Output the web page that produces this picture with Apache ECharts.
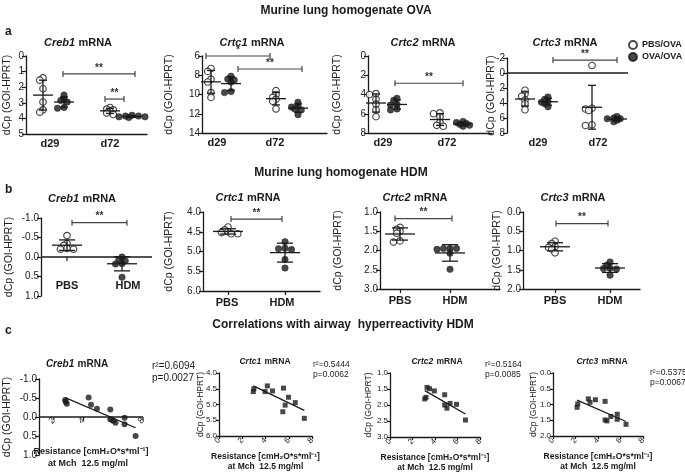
<!DOCTYPE html>
<html><head><meta charset="utf-8">
<script src="https://cdn.jsdelivr.net/npm/echarts@6/dist/echarts.min.js"></script>
<style>html,body{margin:0;padding:0;background:#fff}#c{width:685px;height:475px}</style>
</head><body><div id="c"></div>
<script>
// ================= DATA =================
const timeLabels = ['d29', 'd72'];
const hdmLabels = ['PBS', 'HDM'];
const ovaNames = ['PBS/OVA', 'OVA/OVA'];
const sigA1 = ['**', '**'];
const sigA2 = ['*', '**'];
const sigA3 = ['**'];
const sigA4 = ['**'];
const sigB = ['**'];

// y tick labels
const yTicksA1 = [0, 1, 2, 3, 4, 5];
const yTicksA2 = [6, 8, 10, 12, 14];
const yTicksA3 = [0, 2, 4, 6, 8];
const yTicksA4 = [-2, 0, 2, 4, 6, 8];
const yTicksB1 = [-1.0, -0.5, 0.0, 0.5, 1.0];
const yTicksB2 = [4.0, 4.5, 5.0, 5.5, 6.0];
const yTicksB3 = [1.0, 1.5, 2.0, 2.5, 3.0];
const yTicksB4 = [0.0, 0.5, 1.0, 1.5, 2.0];
const yTicksC1 = [-1.0, -0.5, 0.0, 0.5, 1.0];
const yTicksC2 = [4.0, 4.5, 5.0, 5.5, 6.0];
const yTicksC3 = [1.0, 1.5, 2.0, 2.5, 3.0];
const yTicksC4 = [0.0, 0.5, 1.0, 1.5, 2.0];
const xTicksC1 = [2, 4, 6, 8];
const xTicksC = [0, 2, 4, 6, 8];

// Row a: murine lung homogenate OVA (dCp)
const aCreb1_pbs_d29 = [1.4, 1.55, 2.1, 2.95, 3.45, 3.6];
const aCreb1_ova_d29 = [2.5, 2.75, 2.85, 2.95, 3.3, 3.35];
const aCreb1_pbs_d72 = [3.3, 3.4, 3.45, 3.55, 3.65, 3.75];
const aCreb1_ova_d72 = [3.8, 3.85, 3.85, 3.9, 3.9, 3.95];

const aCrtc1_pbs_d29 = [7.3, 7.6, 8.4, 8.7, 9.8, 10.3];
const aCrtc1_ova_d29 = [8.1, 8.4, 8.5, 8.7, 9.7, 9.8];
const aCrtc1_pbs_d72 = [9.6, 10.0, 10.3, 10.5, 10.7, 11.5];
const aCrtc1_ova_d72 = [10.8, 11.2, 11.3, 11.5, 11.6, 12.1];

const aCrtc2_pbs_d29 = [3.9, 4.0, 4.5, 5.0, 5.6, 6.3];
const aCrtc2_ova_d29 = [4.4, 4.6, 5.0, 5.1, 5.5, 5.6];
const aCrtc2_pbs_d72 = [5.9, 6.0, 6.3, 6.9, 7.2, 7.3];
const aCrtc2_ova_d72 = [6.8, 6.9, 7.0, 7.1, 7.2, 7.3];

const aCrtc3_pbs_d29 = [2.3, 2.8, 3.1, 3.6, 4.1, 4.9];
const aCrtc3_ova_d29 = [3.2, 3.5, 3.8, 3.9, 4.1, 4.5];
const aCrtc3_pbs_d72 = [-1.0, 4.7, 4.8, 5.0, 6.9, 7.0];
const aCrtc3_ova_d72 = [5.8, 6.0, 6.1, 6.1, 6.3, 6.5];

// significance bracket heights (data units)
const brA1 = [1.15, 2.76];
const brA2 = [6.0, 7.35];
const brA3 = [2.83];
const brA4 = [-1.73];

// Row b: murine lung homogenate HDM (dCp)
const bCreb1_pbs = [-0.55, -0.35, -0.3, -0.22, -0.2, -0.2];
const bCreb1_hdm = [0.0, 0.07, 0.1, 0.17, 0.18, 0.52];
const bCrtc1_pbs = [4.38, 4.45, 4.5, 4.52, 4.55, 4.55];
const bCrtc1_hdm = [4.75, 4.92, 4.93, 4.95, 5.2, 5.42];
const bCrtc2_pbs = [1.4, 1.45, 1.5, 1.55, 1.75, 1.78];
const bCrtc2_hdm = [1.95, 1.95, 1.95, 1.97, 2.07, 2.49];
const bCrtc3_pbs = [0.76, 0.82, 0.9, 0.92, 0.96, 1.06];
const bCrtc3_hdm = [1.3, 1.38, 1.46, 1.47, 1.48, 1.64];
const brB = [-0.88, 4.18, 1.17, 0.3];

// Row c: correlations with airway hyperreactivity (resistance vs dCp)
const cCreb1_res = [2.76, 2.8, 2.87, 4.34, 4.5, 4.9, 5.8, 5.8, 5.99, 6.15, 6.76, 6.76, 7.5];
const cCreb1_dcp = [-0.45, -0.40, -0.35, -0.51, -0.32, -0.22, -0.2, 0.06, 0.1, 0.15, 0.02, 0.19, 0.5];
const cCrtc1_res = [2.95, 3.0, 3.96, 4.16, 4.6, 5.55, 5.69, 5.49, 5.98, 6.56, 7.34];
const cCrtc1_dcp = [4.59, 4.5, 4.59, 4.41, 4.57, 4.48, 5.02, 5.23, 4.77, 4.94, 5.44];
const cCrtc2_res = [3.09, 3.2, 3.29, 3.51, 3.94, 4.86, 4.86, 5.06, 5.34, 5.91, 6.71];
const cCrtc2_dcp = [1.81, 1.76, 1.45, 1.49, 1.56, 1.68, 2.0, 2.1, 1.95, 1.98, 2.47];
const cCrtc3_res = [2.14, 2.2, 3.14, 3.29, 3.77, 4.63, 4.63, 4.8, 5.14, 5.71, 5.71, 6.49];
const cCrtc3_dcp = [1.09, 0.98, 0.82, 0.93, 0.85, 0.9, 1.49, 1.52, 1.38, 1.31, 1.47, 1.63];
const cStats = [['0.6094', '0.0027'], ['0.5444', '0.0062'], ['0.5164', '0.0085'], ['0.5375', '0.0067']];

// ================= BUILD =================
const FONT = '"Liberation Sans", Arial, Helvetica, sans-serif';
const INK = '#1a1a1a';
const option = {
  animation: false, backgroundColor: '#fff',
  textStyle: { fontFamily: FONT },
  grid: [], xAxis: [], yAxis: [], series: [], graphic: [],
  legend: {
    data: ovaNames, orient: 'vertical', left: 628, top: 40, itemWidth: 8, itemHeight: 8,
    itemGap: 2, icon: 'circle', selectedMode: false, padding: 0,
    textStyle: { fontSize: 9, fontWeight: 'bold', color: INK, fontFamily: FONT }
  }
};

function mean(a) { return a.reduce((s, v) => s + v, 0) / a.length; }
function sd(a) { const m = mean(a); return Math.sqrt(a.reduce((s, v) => s + (v - m) * (v - m), 0) / (a.length - 1)); }
function fmt1(v) { return v.toFixed(1); }

function swarm(vals, center, pxPerUnit, size) {
  const order = vals.map((v, i) => i).sort((a, b) => vals[a] - vals[b]);
  const placed = []; const out = [];
  const step = size * 0.5, dist = size * 0.55;
  for (const i of order) {
    const y = vals[i] * pxPerUnit;
    let off = 0;
    for (let k = 0; k < 30; k++) {
      const cand = k === 0 ? 0 : (k % 2 ? -1 : 1) * Math.ceil(k / 2) * step;
      const ok = placed.every(p => Math.hypot(p.x - cand, p.y - y) >= dist);
      if (ok) { off = cand; break; }
    }
    placed.push({ x: off, y: y });
    out[i] = [center + off, vals[i]];
  }
  return out;
}

function errRender(hw, cw) {
  return function (params, api) {
    const x = api.value(0), m = api.value(1), s = api.value(2);
    const c = api.coord([x, m]), a = api.coord([x, m - s]), b = api.coord([x, m + s]);
    const st = { stroke: INK, lineWidth: 1.3 };
    return { type: 'group', children: [
      { type: 'line', shape: { x1: c[0] - hw, y1: c[1], x2: c[0] + hw, y2: c[1] }, style: st },
      { type: 'line', shape: { x1: c[0], y1: a[1], x2: c[0], y2: b[1] }, style: st },
      { type: 'line', shape: { x1: c[0] - cw, y1: a[1], x2: c[0] + cw, y2: a[1] }, style: st },
      { type: 'line', shape: { x1: c[0] - cw, y1: b[1], x2: c[0] + cw, y2: b[1] }, style: st }
    ] };
  };
}

function bracketRender(texts) {
  return function (params, api) {
    const y = api.value(2);
    const p1 = api.coord([api.value(0), y]), p2 = api.coord([api.value(1), y]);
    const st = { stroke: '#444', lineWidth: 1.2 };
    return { type: 'group', children: [
      { type: 'line', shape: { x1: p1[0], y1: p1[1], x2: p2[0], y2: p2[1] }, style: st },
      { type: 'line', shape: { x1: p1[0], y1: p1[1] - 3, x2: p1[0], y2: p1[1] + 3 }, style: st },
      { type: 'line', shape: { x1: p2[0], y1: p2[1] - 3, x2: p2[0], y2: p2[1] + 3 }, style: st },
      { type: 'text', style: { text: texts[params.dataIndex], x: (p1[0] + p2[0]) / 2, y: p1[1] - 1,
        align: 'center', verticalAlign: 'bottom', fontSize: 10, fontWeight: 'bold', fontFamily: FONT, fill: '#333' } }
    ] };
  };
}

function zeroRender(ticks, tickLen) {
  return function (params, api) {
    const cs = params.coordSys;
    const y = api.coord([api.value(0), 0])[1];
    const kids = [{ type: 'line', shape: { x1: cs.x, y1: y, x2: cs.x + cs.width, y2: y }, style: { stroke: INK, lineWidth: 1.3 } }];
    (ticks || []).forEach(t => {
      const x = api.coord([t, 0])[0];
      kids.push({ type: 'line', shape: { x1: x, y1: y, x2: x, y2: y + (tickLen || 4) }, style: { stroke: INK, lineWidth: 1.2 } });
    });
    return { type: 'group', children: kids };
  };
}

function yAxisCfg(gi, ticks, name, gap, small) {
  return {
    gridIndex: gi, type: 'value', inverse: true,
    min: ticks[0], max: ticks[ticks.length - 1], interval: ticks[1] - ticks[0],
    axisLine: { show: true, lineStyle: { color: INK, width: 1.3 } },
    axisTick: { show: true, length: small ? 3 : 4, lineStyle: { color: INK, width: 1.2 } },
    axisLabel: { fontSize: small ? 8 : 10, color: '#222', margin: 2, showMinLabel: true, showMaxLabel: true,
      hideOverlap: false,
      formatter: (Number.isInteger(ticks[1] - ticks[0]) ? (v => String(v)) : fmt1) },
    splitLine: { show: false },
    name: name, nameLocation: 'middle', nameGap: gap, nameRotate: 90, nameMoveOverlap: false,
    nameTextStyle: { fontSize: small ? 8.5 : 10.5, color: '#222', fontFamily: FONT }
  };
}

function addGrid(l, t, w, h) {
  option.grid.push({ left: l, top: t, width: w, height: h, containLabel: false, outerBoundsMode: 'none' });
  return option.grid.length - 1;
}

// dot-plot panel
function dotPanel(p) {
  const gi = addGrid(p.left, p.top, p.width, p.height);
  const lblMap = {};
  p.labelPos.forEach((v, i) => { lblMap[v] = p.labels[i]; });
  option.xAxis.push({
    gridIndex: gi, type: 'value', min: 0, max: p.width,
    axisLine: { show: p.xLine, onZero: false, lineStyle: { color: INK, width: 1.3 } },
    axisTick: { show: !!p.xTicks, customValues: p.tickPos || p.labelPos, length: 4, lineStyle: { color: INK, width: 1.2 } },
    axisLabel: { customValues: p.labelPos, formatter: v => lblMap[v] || '', fontSize: 11, fontWeight: 'bold',
      color: INK, margin: p.labelMargin },
    splitLine: { show: false }
  });
  const ticks = p.yTicks;
  option.yAxis.push(yAxisCfg(gi, ticks, 'dCp (GOI-HPRT)', p.nameGap, false));
  const ppu = p.height / (ticks[ticks.length - 1] - ticks[0]);
  p.groups.forEach(g => {
    option.series.push({
      type: 'scatter', name: g.name, xAxisIndex: gi, yAxisIndex: gi, symbol: 'circle', symbolSize: 6.5,
      data: swarm(g.vals, g.pos, ppu, 6.5), z: 3,
      itemStyle: g.filled ? { color: INK, borderColor: INK, borderWidth: 0.5 } : { color: '#fff', borderColor: INK, borderWidth: 1.2 }
    });
    option.series.push({
      type: 'custom', xAxisIndex: gi, yAxisIndex: gi, z: 4, renderItem: errRender(p.meanHW, p.capHW),
      encode: { x: 0, y: 1 }, data: [[g.pos, mean(g.vals), sd(g.vals)]], silent: true
    });
  });
  option.series.push({
    type: 'custom', xAxisIndex: gi, yAxisIndex: gi, z: 5, renderItem: bracketRender(p.sig),
    encode: { x: [0, 1], y: 2 }, data: p.brackets.map((b, i) => [b[0], b[1], p.brY[i]]), silent: true
  });
  if (p.zero) {
    option.series.push({
      type: 'custom', xAxisIndex: gi, yAxisIndex: gi, z: 2, renderItem: zeroRender(p.zeroTicks, 4),
      encode: { x: 0, y: 1 }, data: [[0, 0]], silent: true
    });
  }
}

// Row a
const aGroupNames = [ovaNames[0], ovaNames[1], ovaNames[0], ovaNames[1]];
function rowA(left, top, width, height, pos, labelPos, yTicks, vals, brackets, brY, sig, gap, zero) {
  dotPanel({ left, top, width, height, yTicks, nameGap: gap, labels: timeLabels, labelPos, labelMargin: 4,
    xLine: !zero, zero: zero, meanHW: 10, capHW: 4, sig, brackets, brY,
    groups: vals.map((v, i) => ({ name: aGroupNames[i], filled: i % 2 === 1, pos: pos[i], vals: v })) });
}
rowA(26, 56, 121, 78, [17, 38, 84, 106], [24, 84], yTicksA1,
  [aCreb1_pbs_d29, aCreb1_ova_d29, aCreb1_pbs_d72, aCreb1_ova_d72], [[37, 109], [79, 98]], brA1, sigA1, 13, false);
rowA(202, 56, 125, 77, [9, 29, 74, 96], [15, 73], yTicksA2,
  [aCrtc1_pbs_d29, aCrtc1_ova_d29, aCrtc1_pbs_d72, aCrtc1_ova_d72], [[4, 68], [36, 100]], brA2, sigA2, 27, false);
rowA(368, 56, 124, 77, [8, 29, 72, 95], [15, 79], yTicksA3,
  [aCrtc2_pbs_d29, aCrtc2_ova_d29, aCrtc2_pbs_d72, aCrtc2_ova_d72], [[27, 95]], brA3, sigA3, 25, false);
rowA(507, 58, 121, 75, [18, 41, 85, 110], [31, 91], yTicksA4,
  [aCrtc3_pbs_d29, aCrtc3_ova_d29, aCrtc3_pbs_d72, aCrtc3_ova_d72], [[46, 110]], brA4, sigA4, 10, true);

// Row b
function rowB(left, top, width, height, pos, labelPos, yTicks, vals, bracket, brY, gap, first) {
  dotPanel({ left, top, width, height, yTicks, nameGap: gap, labels: hdmLabels, labelPos,
    labelMargin: first ? -16 : 6, xLine: !first, xTicks: !first, tickPos: pos,
    zero: first, zeroTicks: pos, meanHW: 15, capHW: 8, sig: sigB, brackets: [bracket], brY: [brY],
    groups: vals.map((v, i) => ({ name: hdmLabels[i], filled: i === 1, pos: pos[i], vals: v })) });
}
rowB(41, 218, 111, 78, [26, 81], [26, 87], yTicksB1, [bCreb1_pbs, bCreb1_hdm], [31, 86], brB[0], 26, true);
rowB(203, 212, 117, 79, [25, 82], [24, 79], yTicksB2, [bCrtc1_pbs, bCrtc1_hdm], [28, 79], brB[1], 28, false);
rowB(380, 212, 120, 77, [20, 70], [20, 75], yTicksB3, [bCrtc2_pbs, bCrtc2_hdm], [15, 72], brB[2], 36, false);
rowB(523, 212, 117, 77, [32, 87], [32, 87], yTicksB4, [bCrtc3_pbs, bCrtc3_hdm], [33, 85], brB[3], 20, false);

// Row c
const resName = 'Resistance [cmH\u2082O*s*ml\u207B\u00B9]\nat Mch  12.5 mg/ml';
function corrPanel(p) {
  const gi = addGrid(p.left, p.top, p.width, p.height);
  const small = !p.big;
  option.xAxis.push({
    gridIndex: gi, type: 'value', min: p.xmin, max: 8,
    axisLine: { show: !p.zeroAxis, onZero: false, lineStyle: { color: INK, width: 1.3 } },
    axisTick: { show: !p.zeroAxis, customValues: p.xTicks, length: 3, lineStyle: { color: INK, width: 1.2 } },
    axisLabel: { customValues: p.xTicks, rotate: 45, fontSize: small ? 8 : 9, color: '#222', margin: p.xLabelMargin },
    splitLine: { show: false },
    name: p.big ? '' : resName, nameLocation: 'middle', nameGap: p.xNameGap, nameMoveOverlap: false,
    nameTextStyle: { fontSize: 8.5, fontWeight: 'bold', color: INK, lineHeight: 10, fontFamily: FONT }
  });
  option.yAxis.push(yAxisCfg(gi, p.yTicks, 'dCp (GOI-HPRT)', p.nameGap, small));
  const pts = p.res.map((x, i) => [x, p.dcp[i]]);
  option.series.push({
    type: 'scatter', xAxisIndex: gi, yAxisIndex: gi, symbol: p.symbol, symbolSize: p.size, data: pts, z: 3,
    itemStyle: { color: INK }
  });
  // least-squares line
  const mx = mean(p.res), my = mean(p.dcp);
  let sxy = 0, sxx = 0;
  p.res.forEach((x, i) => { sxy += (x - mx) * (p.dcp[i] - my); sxx += (x - mx) * (x - mx); });
  const b = sxy / sxx, a = my - b * mx;
  const x0 = Math.min(...p.res), x1 = Math.max(...p.res);
  option.series.push({
    type: 'line', xAxisIndex: gi, yAxisIndex: gi, data: [[x0, a + b * x0], [x1, a + b * x1]],
    symbol: 'none', lineStyle: { color: INK, width: 1.3 }, z: 2, silent: true
  });
  if (p.zeroAxis) {
    option.series.push({
      type: 'custom', xAxisIndex: gi, yAxisIndex: gi, z: 2, renderItem: zeroRender(p.xTicks, 3),
      encode: { x: 0, y: 1 }, data: [[p.xmin, 0]], silent: true
    });
  }
}
corrPanel({ left: 39, top: 379, width: 104, height: 76, xmin: 1, xTicks: xTicksC1, zeroAxis: true, big: true,
  xLabelMargin: -36, yTicks: yTicksC1, nameGap: 26, xNameGap: 30, res: cCreb1_res, dcp: cCreb1_dcp, symbol: 'circle', size: 6 });
corrPanel({ left: 219, top: 373, width: 93, height: 63, xmin: 0, xTicks: xTicksC, xLabelMargin: 3,
  yTicks: yTicksC2, nameGap: 14, xNameGap: 16, res: cCrtc1_res, dcp: cCrtc1_dcp, symbol: 'rect', size: 5 });
corrPanel({ left: 390, top: 373, width: 90, height: 64, xmin: 0, xTicks: xTicksC, xLabelMargin: 3,
  yTicks: yTicksC3, nameGap: 17, xNameGap: 16, res: cCrtc2_res, dcp: cCrtc2_dcp, symbol: 'rect', size: 5 });
corrPanel({ left: 553, top: 373, width: 90, height: 63, xmin: 0, xTicks: xTicksC, xLabelMargin: 3,
  yTicks: yTicksC4, nameGap: 15, xNameGap: 16, res: cCrtc3_res, dcp: cCrtc3_dcp, symbol: 'rect', size: 5 });

// ================= TEXT =================
function txt(text, x, y, size, weight, align, extra) {
  option.graphic.push(Object.assign({ type: 'text', x: x, y: y, silent: true,
    style: { text: text, fontSize: size, fontWeight: weight || 'normal', fontFamily: FONT, fill: INK,
      align: align || 'center', verticalAlign: 'middle' } }, extra || {}));
}
function gtitle(gene, x, y, size) {
  option.graphic.push({ type: 'text', x: x, y: y, silent: true,
    style: { text: '{i|' + gene + '} {n|mRNA}', align: 'center', verticalAlign: 'middle', fill: INK,
      rich: { i: { fontStyle: 'italic', fontWeight: 'bold', fontSize: size, fontFamily: FONT, fill: INK },
              n: { fontWeight: 'bold', fontSize: size, fontFamily: FONT, fill: INK } } } });
}
txt('Murine lung homogenate OVA', 346, 11, 12, 'bold');
txt('Murine lung homogenate HDM', 341, 173, 12, 'bold');
txt('Correlations with airway  hyperreactivity HDM', 343, 325, 12, 'bold');
txt('a', 5, 32, 12, 'bold', 'left');
txt('b', 5, 190, 12, 'bold', 'left');
txt('c', 5, 331, 12, 'bold', 'left');
// Creb1 correlation x-axis title (sits below the plot while the axis line is at zero)
txt(resName.split('\n')[0], 91, 452, 9, 'bold');
txt(resName.split('\n')[1], 88, 464, 9, 'bold');

gtitle('Creb1', 78, 43, 11); gtitle('Crtc1', 252, 43, 11); gtitle('Crtc2', 423, 43, 11); gtitle('Crtc3', 565, 43, 11);
gtitle('Creb1', 82, 199, 11); gtitle('Crtc1', 248, 198, 11); gtitle('Crtc2', 415, 198, 11); gtitle('Crtc3', 573, 198, 11);
gtitle('Creb1', 77, 364, 10); gtitle('Crtc1', 265, 362, 8.5); gtitle('Crtc2', 437, 362, 8.5); gtitle('Crtc3', 602, 362, 8.5);

const statPos = [[152, 372, 10], [313, 370, 8.5], [485, 370, 8.5], [650, 378, 8.5]];
cStats.forEach((s, i) => {
  const p = statPos[i];
  option.graphic.push({ type: 'text', x: p[0], y: p[1], silent: true,
    style: { text: 'r\u00B2=' + s[0] + '\np=' + s[1], fontSize: p[2], fontFamily: FONT, fill: '#222',
      align: 'left', verticalAlign: 'middle', lineHeight: p[2] + 1.5 } });
});

const chart = echarts.init(document.getElementById('c'), null, { renderer: 'canvas' });
chart.setOption(option);
</script></body></html>
